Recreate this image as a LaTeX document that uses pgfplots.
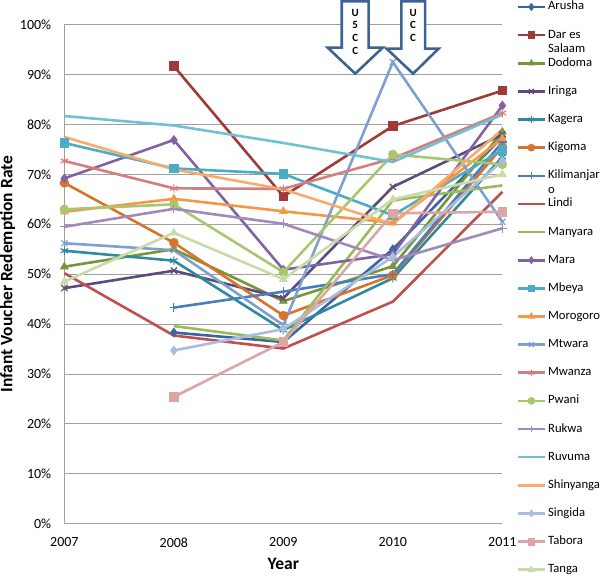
\documentclass[border=0pt]{standalone}
\usepackage{fontspec}
\setmainfont{Carlito}
\usepackage{pgfplots}
\pgfplotsset{compat=1.18}

% Excel 2007 style palette
\definecolor{cArusha}{HTML}{3B64A0}
\definecolor{cDar}{HTML}{9E3B38}
\definecolor{cDodoma}{HTML}{77963A}
\definecolor{cIringa}{HTML}{5F4A7C}
\definecolor{cKagera}{HTML}{2F8A9E}
\definecolor{cKigoma}{HTML}{D9722A}
\definecolor{cKili}{HTML}{4A7EBB}
\definecolor{cLindi}{HTML}{C0504D}
\definecolor{cManyara}{HTML}{9BBB59}
\definecolor{cMara}{HTML}{8064A2}
\definecolor{cMbeya}{HTML}{4BACC6}
\definecolor{cMorogoro}{HTML}{F79646}
\definecolor{cMtwara}{HTML}{7F9FCF}
\definecolor{cMwanza}{HTML}{D47F7D}
\definecolor{cPwani}{HTML}{A9C76F}
\definecolor{cRukwa}{HTML}{A08ABD}
\definecolor{cRuvuma}{HTML}{72C0D5}
\definecolor{cShinyanga}{HTML}{F9AB6C}
\definecolor{cSingida}{HTML}{A9BEDF}
\definecolor{cTabora}{HTML}{DBA7A6}
\definecolor{cTanga}{HTML}{C9DCA8}
\definecolor{gridgray}{HTML}{A0A0A0}
\definecolor{arrowblue}{HTML}{3C6394}

\pgfplotsset{
  ser/.style 2 args={color=#1, line width=2.6pt, mark=#2, mark size=4.3pt,
    mark options={solid, line width=0.9pt, fill=#1}},
  serx/.style 2 args={color=#1, line width=2.6pt, mark=#2, mark size=4.3pt,
    mark options={solid, line width=1.2pt}},
}

\begin{document}
\begin{tikzpicture}
\begin{axis}[
  scale only axis, width=439pt, height=500pt,
  xmin=2007, xmax=2011, ymin=0, ymax=100,
  axis lines=left, axis line style={-, draw=gridgray, line width=0.9pt},
  major tick length=0pt,
  xtick={2007,2008,2009,2010,2011},
  xticklabels={2007,2008,2009,2010,2011},
  ytick={0,10,...,100},
  yticklabels={0\%,10\%,20\%,30\%,40\%,50\%,60\%,70\%,80\%,90\%,100\%},
  ymajorgrids, grid style={draw=gridgray, line width=0.9pt},
  tick label style={font=\fontsize{14}{16}\selectfont, inner sep=0pt},
  xticklabel style={anchor=north, yshift=-14pt},
  yticklabel style={anchor=east, xshift=-13pt},
  xlabel={Year},
  ylabel={Infant Voucher Redemption Rate},
  every axis x label/.style={at={(axis description cs:0.5,0)}, anchor=base,
    yshift=-46pt, inner sep=0pt, text depth=2.5pt,
    font=\bfseries\fontsize{17.5}{20}\selectfont},
  every axis y label/.style={at={(axis description cs:-0.1298,0.5)}, rotate=90,
    anchor=center, inner sep=0pt, font=\bfseries\fontsize{17.5}{20}\selectfont},
  clip=false,
  legend style={at={(1.032,1.048)}, anchor=north west, draw=none, fill=none,
    inner sep=0pt, row sep=16.2pt, column sep=2pt,
    font=\fontsize{12.7}{14.5}\selectfont,
    nodes={inner sep=0pt, text height=9pt, text depth=3pt}},
  legend cell align=left,
  legend image code/.code={\draw[mark repeat=2, mark phase=2, #1]
    plot coordinates {(0pt,0pt) (13.5pt,0pt) (27pt,0pt)};},
  every legend image post/.style={mark size=3.4pt},
]
\addplot[ser={cArusha}{diamond*}] coordinates {(2008,38.3) (2009,36.4) (2010,55) (2011,77.5)};
\addlegendentry{Arusha}
\addplot[ser={cDar}{square*}] coordinates {(2008,91.7) (2009,65.6) (2010,79.7) (2011,86.8)};
\addlegendentry{\begin{tabular}[t]{@{}l@{}}Dar es\\Salaam\end{tabular}}
\addplot[ser={cDodoma}{triangle*}] coordinates {(2007,51.5) (2008,55) (2009,44.6) (2010,51.6) (2011,78.5)};
\addlegendentry{Dodoma}
\addplot[serx={cIringa}{x}] coordinates {(2007,47.2) (2008,50.7) (2009,45.2) (2010,67.5) (2011,78)};
\addlegendentry{Iringa}
\addplot[serx={cKagera}{asterisk}] coordinates {(2007,54.7) (2008,52.7) (2009,38.8) (2010,49.2) (2011,73.5)};
\addlegendentry{Kagera}
\addplot[ser={cKigoma}{*}] coordinates {(2007,68.3) (2008,56.3) (2009,41.7) (2010,49.8) (2011,75.5)};
\addlegendentry{Kigoma}
\addplot[serx={cKili}{+}] coordinates {(2008,43.3) (2009,46.5) (2010,50) (2011,76.5)};
\addlegendentry{\begin{tabular}[t]{@{}l@{}}Kilimanjar\\o\end{tabular}}
\addplot[ser={cLindi}{none}] coordinates {(2007,50.2) (2008,37.7) (2009,35.1) (2010,44.5) (2011,66.5)};
\addlegendentry{Lindi}
\addplot[ser={cManyara}{none}] coordinates {(2008,39.6) (2009,36.7) (2010,64.8) (2011,67.8)};
\addlegendentry{Manyara}
\addplot[ser={cMara}{diamond*}] coordinates {(2007,69.2) (2008,76.9) (2009,50.9) (2010,54) (2011,83.8)};
\addlegendentry{Mara}
\addplot[ser={cMbeya}{square*}] coordinates {(2007,76.3) (2008,71.2) (2009,70.1) (2010,61.8) (2011,74.9)};
\addlegendentry{Mbeya}
\addplot[ser={cMorogoro}{triangle*}] coordinates {(2007,62.5) (2008,65.1) (2009,62.6) (2010,60.3) (2011,77.2)};
\addlegendentry{Morogoro}
\addplot[serx={cMtwara}{x}] coordinates {(2007,56.2) (2008,54.8) (2009,39.8) (2010,92.5) (2011,60.5)};
\addlegendentry{Mtwara}
\addplot[serx={cMwanza}{asterisk}] coordinates {(2007,72.7) (2008,67.2) (2009,67.1) (2010,73.2) (2011,82.3)};
\addlegendentry{Mwanza}
\addplot[ser={cPwani}{*}] coordinates {(2007,63) (2008,64) (2009,50.4) (2010,74) (2011,72)};
\addlegendentry{Pwani}
\addplot[serx={cRukwa}{+}] coordinates {(2007,59.5) (2008,63.1) (2009,60.1) (2010,52.8) (2011,59.2)};
\addlegendentry{Rukwa}
\addplot[ser={cRuvuma}{none}] coordinates {(2007,81.7) (2008,79.8) (2009,76.3) (2010,72.5) (2011,82)};
\addlegendentry{Ruvuma}
\addplot[ser={cShinyanga}{none}] coordinates {(2007,77.5) (2008,71) (2009,67) (2010,60) (2011,79)};
\addlegendentry{Shinyanga}
\addplot[ser={cSingida}{diamond*}] coordinates {(2008,34.7) (2009,39) (2010,53.5) (2011,72.7)};
\addlegendentry{Singida}
\addplot[ser={cTabora}{square*}] coordinates {(2008,25.4) (2009,36.4) (2010,62.2) (2011,62.5)};
\addlegendentry{Tabora}
\addplot[ser={cTanga}{triangle*}] coordinates {(2007,48.5) (2008,58.3) (2009,49) (2010,65) (2011,70)};
\addlegendentry{Tanga}

% policy arrows
\draw[arrowblue, line width=2.6pt, fill=white, line join=miter]
  (axis cs:2009.533,104.7) -- (axis cs:2009.779,104.7) -- (axis cs:2009.779,95.4)
  -- (axis cs:2009.907,95.4) -- (axis cs:2009.656,90.2) -- (axis cs:2009.405,95.4)
  -- (axis cs:2009.533,95.4) -- cycle;
\draw[arrowblue, line width=2.6pt, fill=white, line join=miter]
  (axis cs:2010.077,104.7) -- (axis cs:2010.295,104.7) -- (axis cs:2010.295,95.2)
  -- (axis cs:2010.417,95.2) -- (axis cs:2010.185,90.2) -- (axis cs:2009.943,95.2)
  -- (axis cs:2010.077,95.2) -- cycle;
\node[font=\bfseries\fontsize{11}{12.7}\selectfont, align=center, inner sep=0pt]
  at (axis cs:2009.656,98.6) {U\\5\\C\\C};
\node[font=\bfseries\fontsize{11}{12.7}\selectfont, align=center, inner sep=0pt]
  at (axis cs:2010.185,99.9) {U\\C\\C};
\end{axis}
\end{tikzpicture}
\end{document}
